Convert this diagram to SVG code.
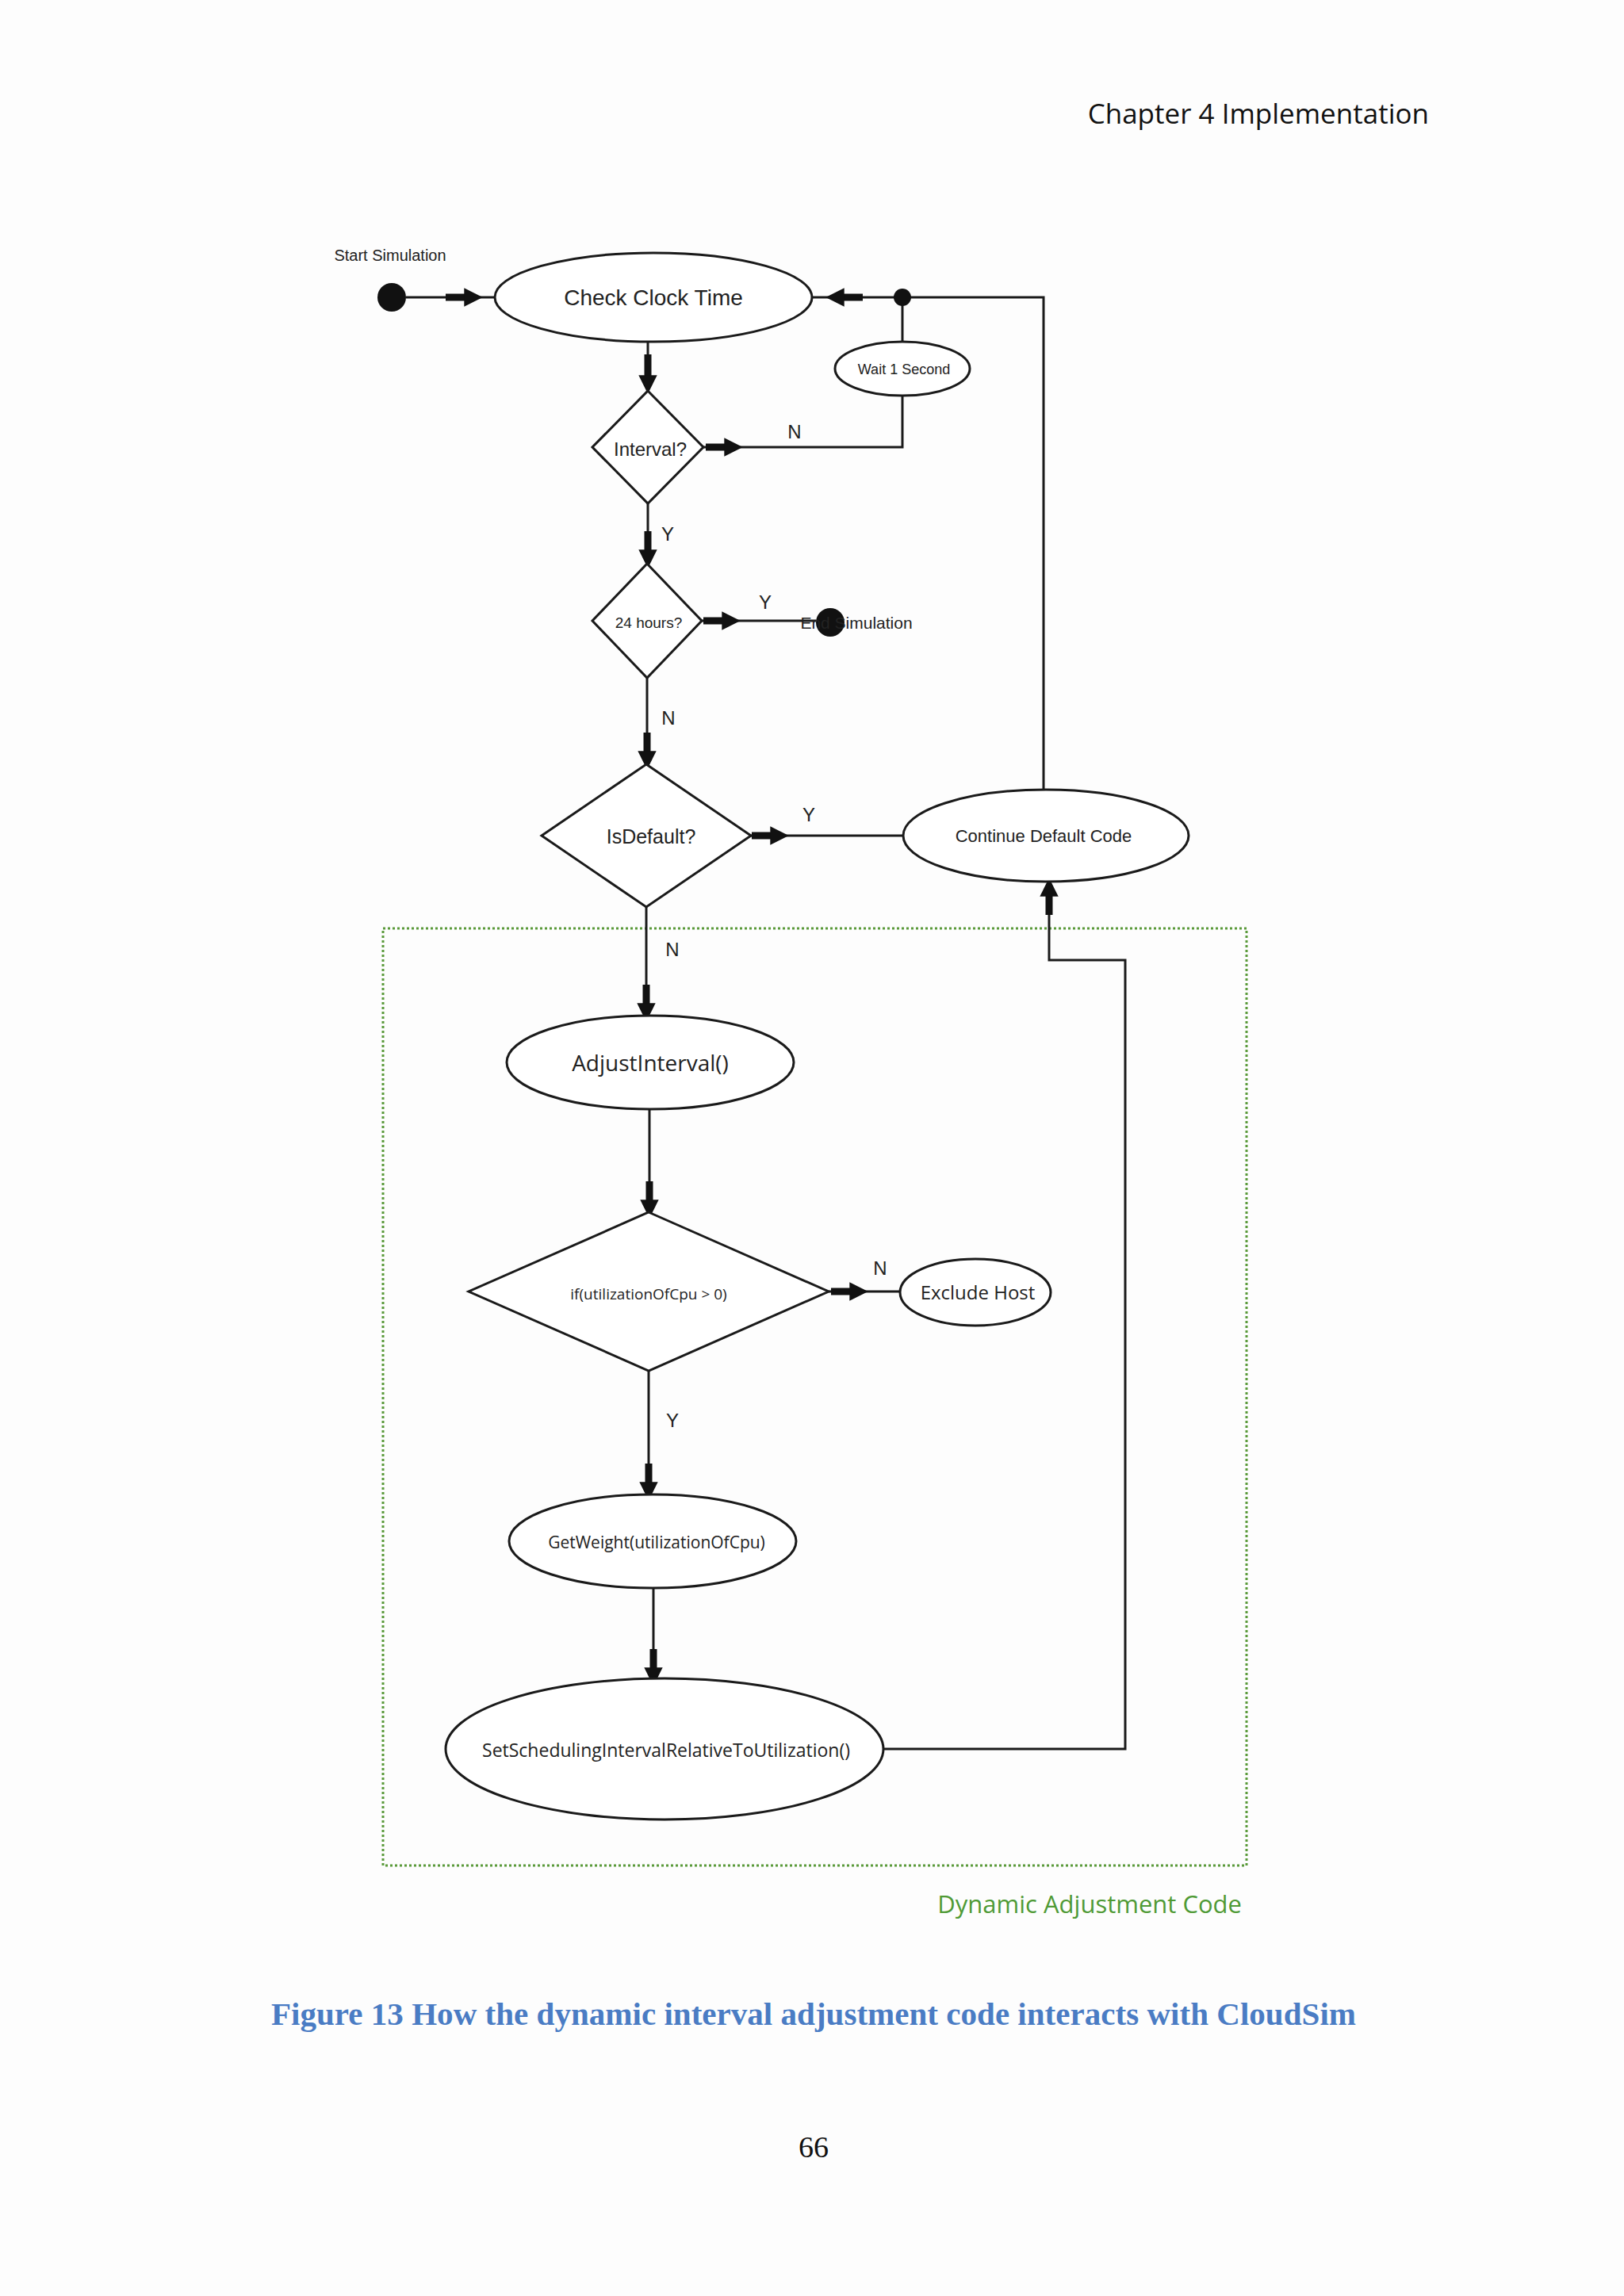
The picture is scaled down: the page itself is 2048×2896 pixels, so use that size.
<svg xmlns="http://www.w3.org/2000/svg" width="2048" height="2896" viewBox="0 0 2048 2896">
<style>
.sh{fill:#fff;stroke:#1a1a1a;stroke-width:3}
.ln{fill:none;stroke:#1a1a1a;stroke-width:3}
.ar{fill:none;stroke:#111;stroke-width:9;marker-end:url(#ah)}
.t{font-family:"Liberation Sans",Arial,sans-serif;fill:#222;text-anchor:middle;dominant-baseline:central}
.c{font-family:"Open Sans","Liberation Sans",sans-serif;fill:#222;text-anchor:middle;dominant-baseline:central}
</style>
<defs>
<marker id="ah" viewBox="0 0 10 10" refX="2" refY="5" markerWidth="2.6" markerHeight="2.6" orient="auto" markerUnits="strokeWidth">
<path d="M0,0L10,5L0,10Z" fill="#111"/>
</marker>
</defs>
<rect width="2048" height="2896" fill="#fdfdfd"/>
<text x="1802" y="142" font-family="Open Sans,Liberation Sans,sans-serif" font-size="35" text-anchor="end" dominant-baseline="central" fill="#111">Chapter 4 Implementation</text>

<rect id="dynamic-box" x="483" y="1171" width="1089" height="1182" fill="none" stroke="#5a9a3a" stroke-width="3" stroke-dasharray="3,3"/>
<text x="1566" y="2401" font-family="Open Sans,Liberation Sans,sans-serif" font-size="31" text-anchor="end" dominant-baseline="central" fill="#4f9a35">Dynamic Adjustment Code</text>

<g id="connectors">
<path class="ln" d="M512,375H624"/><path class="ar" d="M562,375H590"/>
<path class="ln" d="M1138,375H1024"/><path class="ar" d="M1088,375H1060"/>
<path class="ln" d="M817,431V493"/><path class="ar" d="M817,447V478"/>
<path class="ln" d="M887,564H1138V499"/><path class="ar" d="M890,564H918"/>
<path class="ln" d="M1138,431V375H1316V996"/>
<path class="ln" d="M817,635V711"/><path class="ar" d="M817,670V698"/>
<path class="ln" d="M885,783H1029"/><path class="ar" d="M887,783H915"/>
<path class="ln" d="M816,855V964"/><path class="ar" d="M816,924V952"/>
<path class="ln" d="M947,1054H1139"/><path class="ar" d="M948,1054H976"/>
<path class="ln" d="M815,1144V1281"/><path class="ar" d="M815,1242V1270"/>
<path class="ln" d="M819,1399V1529"/><path class="ar" d="M819,1490V1518"/>
<path class="ln" d="M1045,1629H1135"/><path class="ar" d="M1048,1629H1076"/>
<path class="ln" d="M818,1729V1885"/><path class="ar" d="M818,1846V1874"/>
<path class="ln" d="M824,2003V2117"/><path class="ar" d="M824,2080V2108"/>
<path class="ln" d="M1114,2206H1419V1211H1323V1114"/><path class="ar" d="M1323,1154V1126"/>
</g>

<g id="start"><circle cx="494" cy="375" r="18" fill="#111"/><text class="t" x="492" y="322" font-size="20">Start Simulation</text></g>
<g id="junction"><circle cx="1138" cy="375" r="11" fill="#111"/></g>
<g id="check-clock"><ellipse class="sh" cx="824" cy="375" rx="200" ry="56"/><text class="t" x="824" y="375" font-size="28">Check Clock Time</text></g>
<g id="wait"><ellipse class="sh" cx="1138" cy="465" rx="85" ry="34"/><text class="t" x="1140" y="466" font-size="18">Wait 1 Second</text></g>
<g id="interval"><path class="sh" d="M817,493L887,564L817,635L747,564Z"/><text class="t" x="820" y="566" font-size="24">Interval?</text><text class="t" x="1002" y="544" font-size="24">N</text><text class="t" x="842" y="673" font-size="24">Y</text></g>
<g id="hours"><path class="sh" d="M816,711L885,783L816,855L747,783Z"/><text class="t" x="818" y="785" font-size="19">24 hours?</text><text class="t" x="965" y="759" font-size="24">Y</text><text class="t" x="843" y="905" font-size="24">N</text></g>
<g id="end"><circle cx="1047" cy="785" r="18" fill="#111"/><text class="t" x="1080" y="785" font-size="21" text-anchor="start">End Simulation</text></g>
<g id="isdefault"><path class="sh" d="M815,964L947,1054L815,1144L683,1054Z"/><text class="t" x="821" y="1055" font-size="25">IsDefault?</text><text class="t" x="1020" y="1027" font-size="24">Y</text><text class="t" x="848" y="1197" font-size="24">N</text></g>
<g id="continue"><ellipse class="sh" cx="1319" cy="1054" rx="180" ry="58"/><text class="t" x="1316" y="1054" font-size="22">Continue Default Code</text></g>
<g id="adjust"><ellipse class="sh" cx="820" cy="1340" rx="181" ry="59"/><text class="c" x="820" y="1340" font-size="28">AdjustInterval()</text></g>
<g id="ifutil"><path class="sh" d="M818,1529L1045,1629L818,1729L591,1629Z"/><text class="c" x="818" y="1632" font-size="19">if(utilizationOfCpu &gt; 0)</text><text class="t" x="1110" y="1599" font-size="24">N</text><text class="t" x="848" y="1791" font-size="24">Y</text></g>
<g id="exclude"><ellipse class="sh" cx="1230" cy="1630" rx="95" ry="42"/><text class="c" x="1233" y="1629" font-size="24">Exclude Host</text></g>
<g id="getweight"><ellipse class="sh" cx="823" cy="1944" rx="181" ry="59"/><text class="c" x="828" y="1945" font-size="21">GetWeight(utilizationOfCpu)</text></g>
<g id="setsched"><ellipse class="sh" cx="838" cy="2206" rx="276" ry="89" stroke-width="4"/><text class="c" x="840" y="2207" font-size="23">SetSchedulingIntervalRelativeToUtilization()</text></g>

<text x="1026" y="2540" font-family="Liberation Serif,Times New Roman,serif" font-weight="bold" font-size="39" fill="#4a7cc4" text-anchor="middle" dominant-baseline="central" textLength="1368" lengthAdjust="spacingAndGlyphs">Figure 13 How the dynamic interval adjustment code interacts with CloudSim</text>
<text x="1026" y="2708" font-family="Liberation Serif,Times New Roman,serif" font-size="38" fill="#111" text-anchor="middle" dominant-baseline="central">66</text>
</svg>
